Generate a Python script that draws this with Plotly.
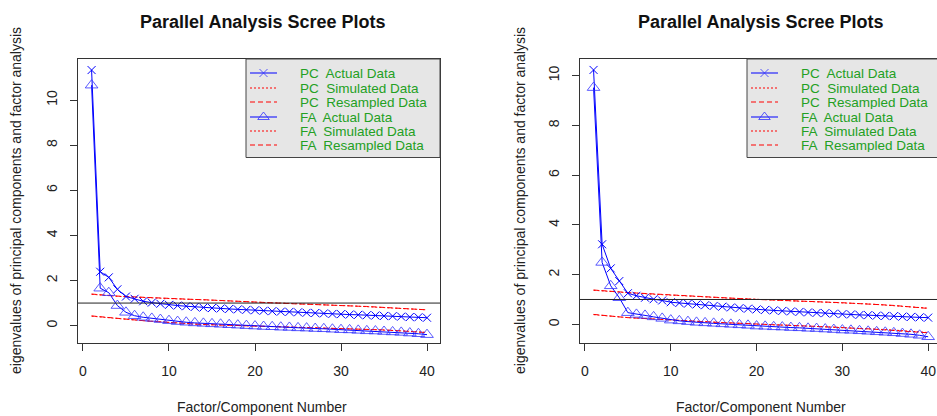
import plotly.graph_objects as go

W, H = 937, 416

factors = list(range(1, 41))

# ---- left panel data ----
pc_actual_1 = [11.33, 2.39, 2.14, 1.61, 1.29, 1.19, 1.08, 1.02, 0.97, 0.92, 0.89, 0.86, 0.83, 0.80, 0.78,
               0.76, 0.74, 0.72, 0.70, 0.68, 0.66, 0.64, 0.62, 0.61, 0.59, 0.57, 0.56, 0.54, 0.52, 0.51,
               0.49, 0.48, 0.46, 0.45, 0.43, 0.42, 0.40, 0.38, 0.37, 0.35]
pc_sim_1 = [1.39, 1.35, 1.32, 1.30, 1.28, 1.26, 1.25, 1.23, 1.22, 1.20, 1.19, 1.17, 1.16, 1.14, 1.13,
            1.11, 1.10, 1.08, 1.06, 1.05, 1.03, 1.01, 1.00, 0.98, 0.97, 0.95, 0.94, 0.92, 0.91, 0.89,
            0.88, 0.86, 0.85, 0.83, 0.81, 0.80, 0.78, 0.76, 0.73, 0.70]
pc_res_1 = [1.40, 1.36, 1.33, 1.31, 1.29, 1.27, 1.25, 1.24, 1.22, 1.21, 1.19, 1.18, 1.16, 1.15, 1.13,
            1.12, 1.10, 1.08, 1.06, 1.04, 1.03, 1.01, 0.99, 0.98, 0.96, 0.95, 0.93, 0.92, 0.91, 0.89,
            0.88, 0.86, 0.85, 0.83, 0.82, 0.80, 0.78, 0.76, 0.73, 0.70]
fa_actual_1 = [10.66, 1.66, 1.46, 0.89, 0.59, 0.44, 0.37, 0.32, 0.27, 0.22, 0.18, 0.15, 0.12, 0.10, 0.08,
               0.06, 0.04, 0.02, 0.00, -0.02, -0.04, -0.05, -0.07, -0.08, -0.10, -0.11, -0.13, -0.14, -0.16, -0.18,
               -0.19, -0.21, -0.23, -0.24, -0.26, -0.28, -0.30, -0.33, -0.36, -0.40]
fa_sim_1 = [0.42, 0.38, 0.34, 0.31, 0.28, 0.25, 0.22, 0.19, 0.16, 0.14, 0.11, 0.09, 0.07, 0.05, 0.04,
            0.02, 0.01, -0.01, -0.02, -0.03, -0.05, -0.06, -0.07, -0.08, -0.09, -0.10, -0.11, -0.12, -0.13, -0.14,
            -0.15, -0.16, -0.17, -0.18, -0.20, -0.21, -0.23, -0.25, -0.28, -0.30]
fa_res_1 = [0.43, 0.39, 0.35, 0.31, 0.28, 0.25, 0.22, 0.19, 0.16, 0.13, 0.11, 0.09, 0.07, 0.05, 0.04,
            0.02, 0.01, -0.01, -0.02, -0.04, -0.05, -0.06, -0.07, -0.08, -0.09, -0.10, -0.11, -0.12, -0.13, -0.14,
            -0.15, -0.16, -0.17, -0.18, -0.19, -0.21, -0.23, -0.25, -0.28, -0.31]

# ---- right panel data ----
pc_actual_2 = [10.23, 3.22, 2.25, 1.74, 1.25, 1.15, 1.07, 1.01, 0.96, 0.89, 0.86, 0.83, 0.80, 0.77, 0.74,
               0.71, 0.68, 0.65, 0.63, 0.60, 0.58, 0.56, 0.54, 0.52, 0.50, 0.48, 0.46, 0.45, 0.43, 0.41,
               0.40, 0.38, 0.37, 0.35, 0.34, 0.33, 0.31, 0.30, 0.28, 0.27]
pc_sim_2 = [1.37, 1.34, 1.32, 1.30, 1.27, 1.25, 1.23, 1.21, 1.19, 1.17, 1.15, 1.14, 1.12, 1.10, 1.09,
            1.07, 1.05, 1.04, 1.02, 1.00, 0.99, 0.97, 0.96, 0.95, 0.93, 0.92, 0.91, 0.89, 0.88, 0.86,
            0.85, 0.83, 0.82, 0.80, 0.78, 0.76, 0.74, 0.71, 0.68, 0.65]
pc_res_2 = [1.38, 1.35, 1.32, 1.30, 1.28, 1.26, 1.24, 1.22, 1.20, 1.18, 1.16, 1.14, 1.12, 1.11, 1.09,
            1.07, 1.06, 1.04, 1.02, 1.00, 0.99, 0.98, 0.96, 0.95, 0.94, 0.92, 0.91, 0.90, 0.88, 0.87,
            0.85, 0.84, 0.82, 0.80, 0.78, 0.76, 0.73, 0.71, 0.68, 0.64]
fa_actual_2 = [9.52, 2.49, 1.55, 1.07, 0.47, 0.40, 0.36, 0.30, 0.24, 0.17, 0.14, 0.11, 0.08, 0.06, 0.04,
               0.02, 0.00, -0.02, -0.04, -0.07, -0.08, -0.10, -0.11, -0.13, -0.14, -0.16, -0.17, -0.19, -0.21, -0.23,
               -0.24, -0.26, -0.28, -0.30, -0.32, -0.34, -0.37, -0.40, -0.44, -0.50]
fa_sim_2 = [0.39, 0.35, 0.32, 0.30, 0.27, 0.25, 0.23, 0.21, 0.19, 0.17, 0.15, 0.13, 0.12, 0.10, 0.09,
            0.07, 0.05, 0.04, 0.02, 0.01, 0.00, -0.02, -0.03, -0.05, -0.06, -0.07, -0.09, -0.10, -0.12, -0.13,
            -0.15, -0.16, -0.18, -0.20, -0.21, -0.23, -0.25, -0.28, -0.30, -0.33]
fa_res_2 = [0.40, 0.36, 0.33, 0.30, 0.27, 0.25, 0.23, 0.21, 0.19, 0.17, 0.15, 0.14, 0.12, 0.10, 0.09,
            0.07, 0.06, 0.04, 0.03, 0.01, 0.00, -0.02, -0.03, -0.04, -0.06, -0.07, -0.08, -0.10, -0.11, -0.14,
            -0.15, -0.17, -0.18, -0.20, -0.22, -0.24, -0.26, -0.28, -0.31, -0.34]

x_ticks = [0, 10, 20, 30, 40]
y_ticks = [0, 2, 4, 6, 8, 10]

legend_labels = ["PC  Actual Data", "PC  Simulated Data", "PC  Resampled Data",
                 "FA  Actual Data", "FA  Simulated Data", "FA  Resampled Data"]

title_text = "Parallel Analysis Scree Plots"
xlabel = "Factor/Component Number"
ylabel = "eigenvalues of principal components and factor analysis"

FONT = "Liberation Sans, Arial, sans-serif"
BLUE = "#0000ff"
MARK = "rgba(50,50,255,0.8)"
RED = "#ff0000"
GREEN = "#23a023"
DASH = "5px,3px"
DOT = "2px,2px"

fig = go.Figure()

panels = [
    dict(xa="x", ya="y", pc=pc_actual_1, pcs=pc_sim_1, pcr=pc_res_1, fa=fa_actual_1, fas=fa_sim_1, far=fa_res_1),
    dict(xa="x2", ya="y2", pc=pc_actual_2, pcs=pc_sim_2, pcr=pc_res_2, fa=fa_actual_2, fas=fa_sim_2, far=fa_res_2),
]

for p in panels:
    common = dict(xaxis=p["xa"], yaxis=p["ya"], showlegend=False, hoverinfo="skip")
    fig.add_trace(go.Scatter(x=factors, y=p["pcs"], mode="lines",
                             line=dict(color=RED, width=1, dash=DOT), **common))
    fig.add_trace(go.Scatter(x=factors, y=p["pcr"], mode="lines",
                             line=dict(color=RED, width=1, dash=DASH), **common))
    fig.add_trace(go.Scatter(x=factors, y=p["fas"], mode="lines",
                             line=dict(color=RED, width=1, dash=DOT), **common))
    fig.add_trace(go.Scatter(x=factors, y=p["far"], mode="lines",
                             line=dict(color=RED, width=1, dash=DASH), **common))
    fig.add_trace(go.Scatter(x=factors, y=p["pc"], mode="lines+markers",
                             line=dict(color=BLUE, width=1),
                             marker=dict(symbol="x-thin-open", size=8, line=dict(color=MARK, width=1)),
                             **common))
    fig.add_trace(go.Scatter(x=factors, y=p["fa"], mode="lines+markers",
                             line=dict(color=BLUE, width=1),
                             marker=dict(symbol="triangle-up-open", size=11, color=MARK,
                                         line=dict(color=MARK, width=1)),
                             **common))

# pixel geometry of the two plot boxes
L1, R1 = 78, 440
L2, R2 = 580, 937
TOP, BOT = 59, 343


def px(xp):
    return xp / W


def py(yp):
    return 1 - yp / H


axis_common = dict(showgrid=False, zeroline=False, ticks="outside", ticklen=7,
                   tickcolor="#333", tickwidth=1, linecolor="#333", linewidth=1,
                   tickfont=dict(family=FONT, size=14, color="#222"))

fig.update_layout(
    width=W, height=H, margin=dict(l=0, r=0, t=0, b=0),
    paper_bgcolor="white", plot_bgcolor="rgba(0,0,0,0)",
    xaxis=dict(domain=[px(L1), px(R1)], range=[-0.58, 41.51], tickvals=x_ticks,
               showline=True, mirror=True, anchor="y", ticklabelstandoff=8, **axis_common),
    yaxis=dict(domain=[py(BOT), py(TOP)], range=[-0.77, 11.82], tickvals=y_ticks,
               showline=True, mirror=True, anchor="x", tickangle=-90, ticklabelstandoff=7, **axis_common),
    xaxis2=dict(domain=[px(L2), 1.0], range=[-0.58, 41.03], tickvals=x_ticks,
                showline=True, mirror=True, anchor="y2", ticklabelstandoff=8, **axis_common),
    yaxis2=dict(domain=[py(BOT), py(TOP)], range=[-0.75, 10.67], tickvals=y_ticks,
                showline=True, mirror=False, anchor="x2", tickangle=-90, ticklabelstandoff=7, **axis_common),
    xaxis3=dict(domain=[0, 1], range=[0, W], visible=False, anchor="y3", fixedrange=True),
    yaxis3=dict(domain=[0, 1], range=[H, 0], visible=False, anchor="x3", fixedrange=True),
)

# horizontal reference lines at eigenvalue 1
for xr, yr in [("x domain", "y"), ("x2 domain", "y2")]:
    fig.add_shape(type="line", xref=xr, yref=yr, x0=0, x1=1, y0=1, y1=1,
                  line=dict(color="#222", width=1), layer="above")

# titles and axis labels
annotations = []
for cx, ylab_x in [((L1 + R1) / 2 + 3, 16), ((L2 + 941) / 2, 520)]:
    annotations.append(dict(x=px(cx), y=py(22), xref="paper", yref="paper", text="<b>" + title_text + "</b>",
                            showarrow=False, font=dict(family=FONT, size=18, color="#111"),
                            xanchor="center", yanchor="middle"))
    annotations.append(dict(x=px(cx), y=py(407), xref="paper", yref="paper", text=xlabel,
                            showarrow=False, font=dict(family=FONT, size=14, color="#222"),
                            xanchor="center", yanchor="middle"))
    annotations.append(dict(x=px(ylab_x), y=py((TOP + BOT) / 2), xref="paper", yref="paper", text=ylabel,
                            showarrow=False, textangle=-90, font=dict(family=FONT, size=14, color="#222"),
                            xanchor="center", yanchor="middle"))

# manual legends (pixel overlay axes)
row_y = [73, 88, 102, 117, 131, 145]
legend_styles = [
    dict(dash="solid", color=BLUE, sym="x-thin-open"),
    dict(dash=DOT, color=RED, sym=None),
    dict(dash=DASH, color=RED, sym=None),
    dict(dash="solid", color=BLUE, sym="triangle-up-open"),
    dict(dash=DOT, color=RED, sym=None),
    dict(dash=DASH, color=RED, sym=None),
]
for bx0, bx1 in [(246, R1), (747, 942)]:
    fig.add_trace(go.Scatter(x=[bx0, bx1, bx1, bx0, bx0], y=[TOP, TOP, 157.5, 157.5, TOP],
                             xaxis="x3", yaxis="y3", mode="lines", fill="toself",
                             fillcolor="#e6e6e6", line=dict(color="#444", width=1),
                             showlegend=False, hoverinfo="skip"))
    sx0, sx1 = bx0 + 4, bx0 + 31
    for ry, st, lab in zip(row_y, legend_styles, legend_labels):
        fig.add_trace(go.Scatter(x=[sx0, sx1], y=[ry, ry], xaxis="x3", yaxis="y3", mode="lines",
                                 line=dict(color=st["color"], width=1, dash=st["dash"]),
                                 showlegend=False, hoverinfo="skip"))
        if st["sym"]:
            fig.add_trace(go.Scatter(x=[(sx0 + sx1) / 2], y=[ry], xaxis="x3", yaxis="y3", mode="markers",
                                     marker=dict(symbol=st["sym"], size=10 if "tri" in st["sym"] else 8,
                                                 color=MARK, line=dict(color=MARK, width=1)),
                                     showlegend=False, hoverinfo="skip"))
        annotations.append(dict(x=px(bx0 + 52), y=py(ry), xref="paper", yref="paper", text=lab,
                                showarrow=False, font=dict(family=FONT, size=13.5, color=GREEN),
                                xanchor="left", yanchor="middle", height=14, valign="middle"))

fig.update_layout(annotations=annotations)

fig.write_html("out.html")
